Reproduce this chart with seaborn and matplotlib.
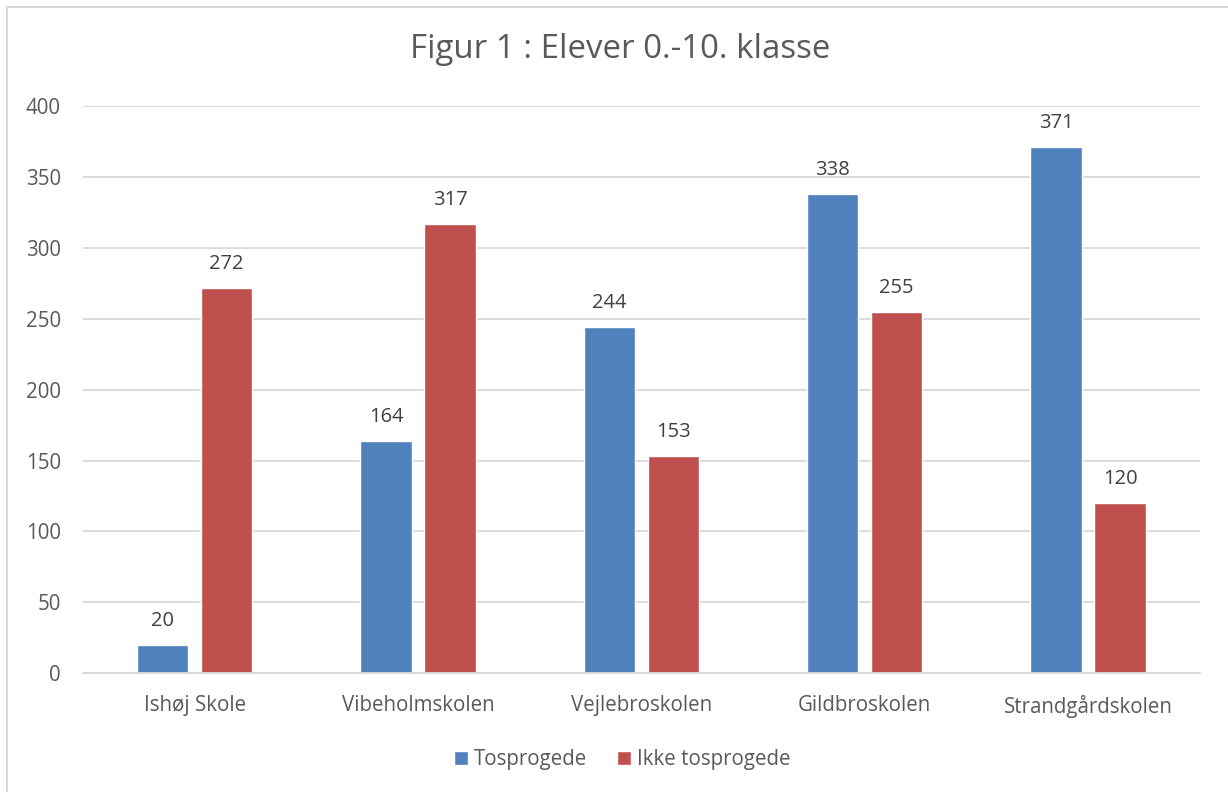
import pandas as pd
import seaborn as sns
import matplotlib.pyplot as plt
from matplotlib.lines import Line2D

# Data
schools = ['Ishøj Skole', 'Vibeholmskolen', 'Vejlebroskolen', 'Gildbroskolen', 'Strandgårdskolen']
tosprogede = [20, 164, 244, 338, 371]
ikke_tosprogede = [272, 317, 153, 255, 120]
series = ['Tosprogede', 'Ikke tosprogede']
colors = ['#4F81BD', '#C0504D']

df = pd.DataFrame({
    'skole': schools * 2,
    'gruppe': [series[0]] * len(schools) + [series[1]] * len(schools),
    'elever': tosprogede + ikke_tosprogede,
})

sns.set_style('white')
plt.rcParams['font.family'] = ['Open Sans', 'DejaVu Sans']

fig = plt.figure(figsize=(12.28, 7.92), dpi=100)
ax = fig.add_axes([0.0676, 0.150, 0.9094, 0.716])

sns.barplot(data=df, x='skole', y='elever', hue='gruppe', palette=colors,
            width=0.573, gap=0.2, saturation=1, ax=ax, legend=True)

for cont in ax.containers:
    ax.bar_label(cont, padding=10, fontsize=14.5, color='#404040')

ax.set_ylim(0, 400)
ax.set_yticks(range(0, 401, 50))
ax.yaxis.grid(True, color='#D9D9D9', linewidth=1.3)
ax.set_axisbelow(True)
for side in ['top', 'right', 'left']:
    ax.spines[side].set_visible(False)
ax.spines['bottom'].set_color('#D9D9D9')
ax.spines['bottom'].set_linewidth(1.3)
ax.tick_params(axis='both', length=0, labelsize=14.8, labelcolor='#595959')
ax.tick_params(axis='x', pad=16)
ax.tick_params(axis='y', pad=16)
ax.set_xlabel('')
ax.set_ylabel('')

fig.text(0.505, 0.937, 'Figur 1 : Elever 0.-10. klasse', ha='center', va='center',
         fontsize=23.8, color='#595959')

ax.legend(loc='center', bbox_to_anchor=(0.483, -0.152), ncol=2, frameon=False,
          fontsize=14.8, labelcolor='#595959', handlelength=0.67, handleheight=0.67,
          handletextpad=0.3, columnspacing=1.45)

# chart-area border (only left and top visible in the reference)
fig.add_artist(Line2D([0.0057, 0.0057], [0.0, 0.991], transform=fig.transFigure,
                      color='#D9D9D9', linewidth=1.5))
fig.add_artist(Line2D([0.0057, 1.0], [0.991, 0.991], transform=fig.transFigure,
                      color='#D9D9D9', linewidth=1.5))

fig.savefig('out.png', dpi=100)
